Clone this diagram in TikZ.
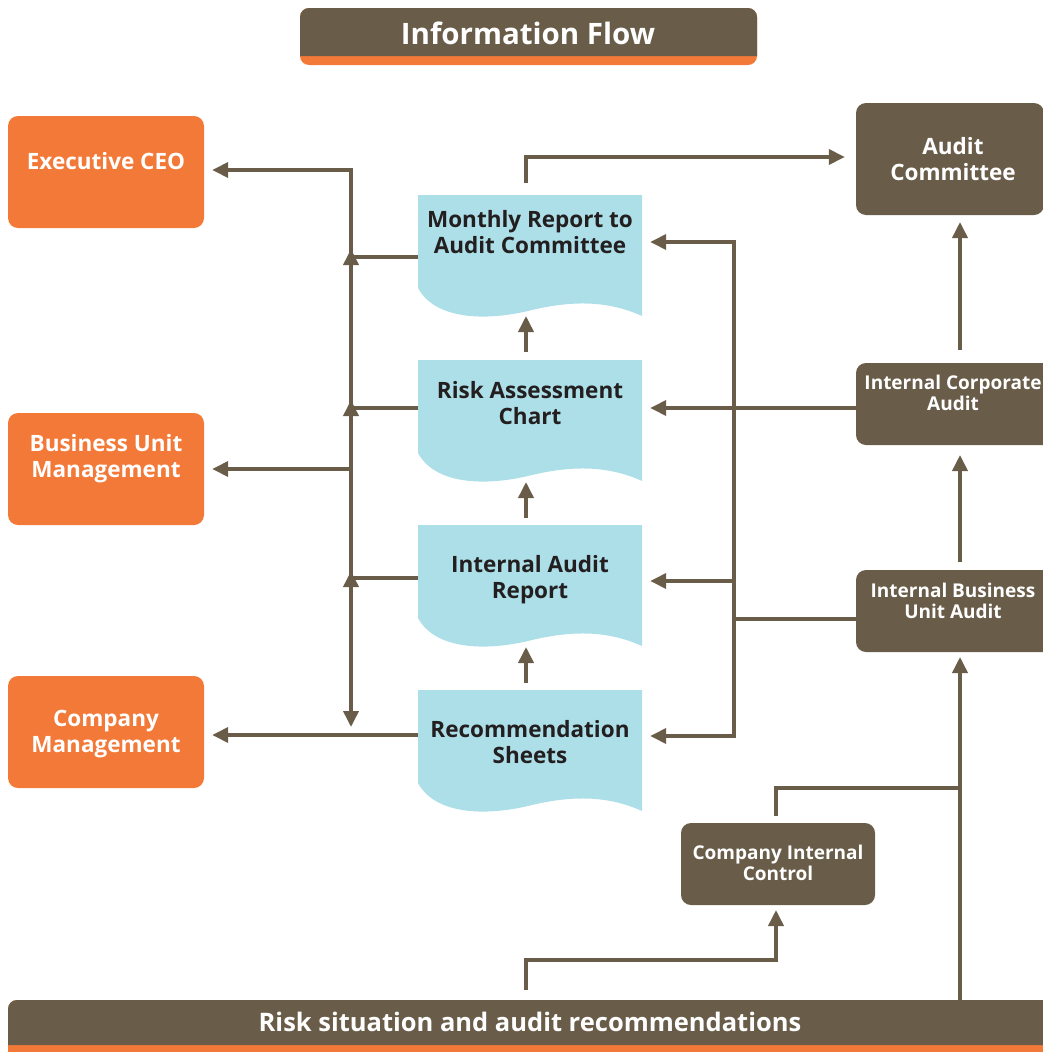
\documentclass[tikz,border=0pt]{standalone}
\usepackage{fontspec}
\setmainfont{Open Sans}
\usetikzlibrary{arrows.meta}
\definecolor{brn}{RGB}{105,93,74}
\definecolor{org}{RGB}{243,121,56}
\definecolor{lblue}{RGB}{173,223,232}
\definecolor{dtxt}{RGB}{35,31,32}
\begin{document}
\begin{tikzpicture}[x=1pt,y=-1pt,
  flow/.style={draw=brn,line width=3.6pt},
  tip/.style={-{Triangle[length=16pt,width=15pt]}},
  obox/.style={fill=org,rounded corners=10pt,minimum width=196pt,minimum height=112pt,inner sep=0pt},
  bbox/.style={fill=brn,rounded corners=10pt,inner sep=0pt},
  wtext/.style={text=white,font=\bfseries\fontsize{22.5}{26}\selectfont,align=center,inner sep=0pt},
  stext/.style={text=white,font=\bfseries\fontsize{19}{21}\selectfont,align=center,inner sep=0pt},
  dtext/.style={text=dtxt,font=\bfseries\fontsize{22.5}{26}\selectfont,align=center,inner sep=0pt},
  docarea/.style={minimum width=224pt,minimum height=93pt,inner sep=0pt},
  docshape/.pic={\fill[lblue] (-112,-46.5) -- (112,-46.5) -- (112,74.5)
      .. controls (80,60) and (45,58) .. (0,69)
      .. controls (-45,80) and (-95,78) .. (-112,46.5) -- cycle;}
]
\useasboundingbox (0,0) rectangle (1042,1052);

% title
\fill[org,rounded corners=9pt] (300,8) rectangle (757,65);
\fill[brn] (300,56) {[rounded corners=9pt] -- (300,8) -- (757,8)} -- (757,56) -- cycle;
\node[text=white,font=\bfseries\fontsize{29.5}{33}\selectfont,inner sep=0pt] (title) at (528,33) {Information Flow};

% bottom bar
\fill[org] (8,1052) {[rounded corners=9pt] -- (8,1000) -- (1060,1000)} -- (1060,1052) -- cycle;
\fill[brn] (8,1045) {[rounded corners=9pt] -- (8,1000) -- (1060,1000)} -- (1060,1045) -- cycle;
\node[text=white,font=\bfseries\fontsize{25.5}{29}\selectfont,inner sep=0pt] (bar) at (530,1022) {Risk situation and audit recommendations};

% orange boxes
\node[obox] (ceo) at (106,172) {};
\node[wtext] (ceoT) at (106,161) {Executive CEO};
\node[obox] (bum) at (106,469) {};
\node[wtext] (bumT) at (106,459) {Business Unit\\Management};
\node[obox] (cm) at (106,732) {};
\node[wtext] (cmT) at (106,734) {Company\\Management};

% brown boxes
\node[bbox,minimum width=188pt,minimum height=112pt] (ac) at (950,159) {};
\node[wtext] (acT) at (953,159) {Audit\\Committee};
\node[bbox,minimum width=200pt,minimum height=82pt] (ica) at (956,404) {};
\node[stext] (icaT) at (953,393) {Internal Corporate\\Audit};
\node[bbox,minimum width=200pt,minimum height=82pt] (ibua) at (956,611) {};
\node[stext] (ibuaT) at (953,601) {Internal Business\\Unit Audit};
\node[bbox,minimum width=194pt,minimum height=82pt] (cic) at (778,864) {};
\node[stext] (cicT) at (778,863) {Company Internal\\Control};

% documents
\pic at (530,241.5) {docshape};
\node[docarea] (mr) at (530,241.5) {};
\node[dtext] (mrT) at (530,232) {Monthly Report to\\Audit Committee};
\pic at (530,406.5) {docshape};
\node[docarea] (ra) at (530,406.5) {};
\node[dtext] (raT) at (530,403) {Risk Assessment\\Chart};
\pic at (530,571.5) {docshape};
\node[docarea] (iar) at (530,571.5) {};
\node[dtext] (iarT) at (530,580) {Internal Audit\\Report};
\pic at (530,736.5) {docshape};
\node[docarea] (rs) at (530,736.5) {};
\node[dtext] (rsT) at (530,742) {Recommendation\\Sheets};

% coordinates
\coordinate (busTop) at (351,170);
\coordinate (busBot) at (351,727);
\coordinate (rbTop) at (734,242);
\coordinate (rbBot) at (734,736);
\coordinate (rbJ) at (734,619);

% vertical arrows between documents
\draw[flow,tip] (526,352) -- (526,316);
\draw[flow,tip] (526,518) -- (526,482);
\draw[flow,tip] (526,683) -- (526,647);

% monthly report to audit committee
\draw[flow,tip] (526,183) -- (526,157) -- ([xshift=-11pt]ac.west |- 0,157);

% left bus
\draw[flow] (mr.west |- 0,257) -- (351,257);
\draw[flow] (ra.west |- 0,408) -- (351,408);
\draw[flow] (iar.west |- 0,578) -- (351,578);
\draw[flow,tip] (351,578) -- (busTop) -- ([xshift=8pt]ceo.east |- busTop);
\draw[flow,tip] (351,578) -- (busBot);
\draw[flow,tip] (351,469) -- ([xshift=8pt]bum.east |- 0,469);
\draw[flow,tip] (rs.west |- 0,735) -- ([xshift=8pt]cm.east |- 0,735);
\draw[flow,tip] (351,266) -- (351,249);
\draw[flow,tip] (351,417) -- (351,400);
\draw[flow,tip] (351,587) -- (351,571);

% right bus
\draw[flow] (ibua.west |- rbJ) -- (rbJ);
\draw[flow,tip] (rbJ) -- (rbTop) -- ([xshift=8pt]mr.east |- rbTop);
\draw[flow,tip] (rbJ) -- (rbBot) -- ([xshift=8pt]rs.east |- rbBot);
\draw[flow,tip] (734,581) -- ([xshift=8pt]iar.east |- 0,581);
\draw[flow,tip] (ica.west |- 0,408) -- ([xshift=8pt]ra.east |- 0,408);

% right column
\draw[flow,tip] (960,350) -- (960,222);
\draw[flow,tip] (960,562) -- (960,455);
\draw[flow,tip] (960,1000) -- (960,657);
\draw[flow] (776,816) -- (776,788) -- (960,788);
\draw[flow,tip] (526,990) -- (526,960) -- (776,960) -- (776,910);
\end{tikzpicture}
\end{document}
